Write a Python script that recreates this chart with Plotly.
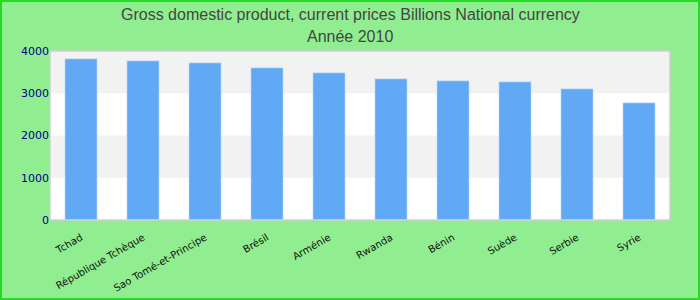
import plotly.graph_objects as go

countries = ["Tchad", "République Tchèque", "Sao Tomé-et-Principe", "Brésil", "Arménie",
             "Rwanda", "Bénin", "Suède", "Serbie", "Syrie"]
values = [3815, 3768, 3720, 3602, 3483, 3341, 3294, 3270, 3104, 2773]
y_ticks = [0, 1000, 2000, 3000, 4000]
title_lines = ["Gross domestic product, current prices Billions National currency", "Année 2010"]

W, H = 700, 300
ml, mr, mt, mb = 50, 30, 51, 80
pw, ph = W - ml - mr, H - mt - mb

fig = go.Figure(go.Bar(x=countries, y=values, marker_color="#62a9f5", width=0.52))

shapes = []
for lo, hi in [(1000, 2000), (3000, 4000)]:
    shapes.append(dict(type="rect", xref="paper", yref="y", x0=0, x1=1, y0=lo, y1=hi,
                       fillcolor="#f2f2f2", line_width=0, layer="below"))
shapes.append(dict(type="rect", xref="paper", yref="paper", x0=0, x1=1, y0=0, y1=1,
                   line=dict(color="#d0d0d0", width=1.5), fillcolor="rgba(0,0,0,0)"))
shapes.append(dict(type="rect", xref="paper", yref="paper",
                   x0=(-ml + 1) / pw, x1=(pw + mr - 1) / pw,
                   y0=(-mb + 1) / ph, y1=(ph + mt - 1) / ph,
                   line=dict(color="#22dd22", width=2), fillcolor="rgba(0,0,0,0)"))

annotations = []
for text, py in zip(title_lines, [14, 36]):
    annotations.append(dict(text=text, showarrow=False,
                            xref="paper", yref="paper",
                            x=(W / 2 - ml) / pw, y=1 + (mt - py) / ph,
                            xanchor="center", yanchor="middle",
                            font=dict(family="Liberation Sans, Arial", size=16, color="#444444")))

fig.update_layout(
    width=W, height=H,
    margin=dict(l=ml, r=mr, t=mt, b=mb),
    paper_bgcolor="#90ee90", plot_bgcolor="white",
    shapes=shapes,
    annotations=annotations,
    showlegend=False,
    bargap=0.48,
)
fig.update_xaxes(tickangle=-30, showgrid=False, ticks="", showline=False,
                 ticklabelstandoff=9, automargin=False,
                 tickfont=dict(family="DejaVu Sans, Verdana", size=10, color="#111111"))
fig.update_yaxes(range=[0, 4000], tickvals=y_ticks, showgrid=False, zeroline=False,
                 showline=False, ticks="", automargin=False,
                 tickfont=dict(family="DejaVu Sans, Verdana", size=11, color="#00008b"))

fig.write_html("out.html")
